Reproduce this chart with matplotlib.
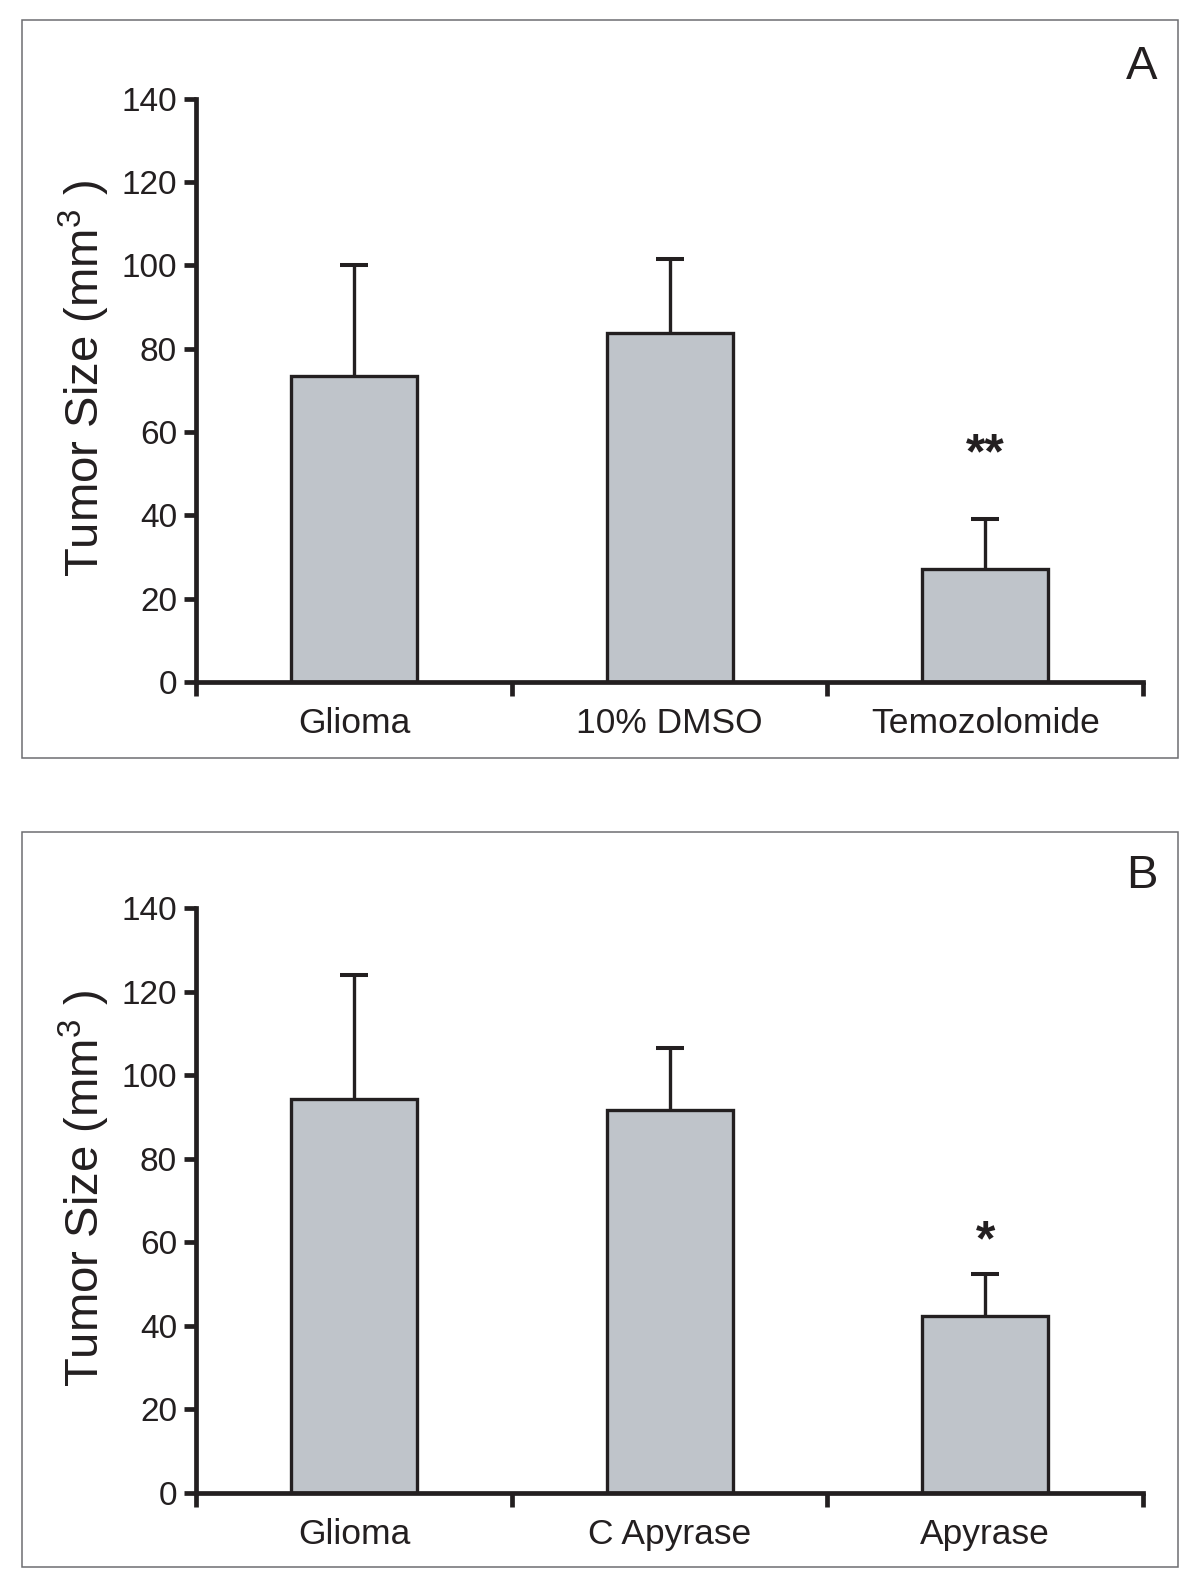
import matplotlib.pyplot as plt
from matplotlib.patches import Rectangle

plt.rcParams['font.family'] = ['Liberation Sans', 'DejaVu Sans']
plt.rcParams['mathtext.fontset'] = 'custom'
plt.rcParams['mathtext.rm'] = 'Liberation Sans'
plt.rcParams['mathtext.it'] = 'Liberation Sans'

# ---------------- data ----------------
groups_a = ['Glioma', '10% DMSO', 'Temozolomide']
means_a = [73.5, 83.8, 27.2]
err_a = [26.5, 17.6, 12.0]
stars_a = ['', '', '**']
star_y_a = 54.3

groups_b = ['Glioma', 'C Apyrase', 'Apyrase']
means_b = [94.2, 91.6, 42.4]
err_b = [29.7, 15.0, 9.9]
stars_b = ['', '', '*']
star_y_b = 60.0

yticks = [0, 20, 40, 60, 80, 100, 120, 140]

ink = '#231f20'
bar_color = '#bfc4ca'

fig = plt.figure(figsize=(12, 15.96), dpi=100)

# panel frames
for y0, h in [(0.5249, 0.4623), (0.0179, 0.4611)]:
    fig.patches.append(Rectangle((0.0187, y0), 0.9627, h, transform=fig.transFigure,
                                 fill=False, edgecolor='#6d6e71', linewidth=1.1))

ax_a = fig.add_axes([0.1637, 0.5727, 0.7888, 0.3655])
ax_b = fig.add_axes([0.1637, 0.0645, 0.7888, 0.3666])


def draw_panel(ax, groups, means, errs, stars, star_y, letter):
    x = [0.5, 1.5, 2.5]
    ax.bar(x, means, width=0.4, color=bar_color, edgecolor=ink, linewidth=2.4, zorder=2)
    eb = ax.errorbar(x, means, yerr=[[0] * len(errs), errs], fmt='none', ecolor=ink,
                     elinewidth=2.4, capsize=10, capthick=2.9, zorder=1)
    # only the upper cap is drawn in the original
    eb[1][0].set_visible(False)
    for xi, s in zip(x, stars):
        if s:
            ax.text(xi, star_y, s, ha='center', va='center', fontsize=36,
                    fontweight='bold', color=ink)

    ax.set_xlim(0, 3)
    ax.set_ylim(0, 140)
    ax.set_yticks(yticks)
    ax.set_xticks([0, 1, 2, 3])
    ax.set_xticklabels([])
    ax.set_xticks(x, minor=True)
    ax.set_xticklabels(groups, minor=True)

    for side in ['top', 'right']:
        ax.spines[side].set_visible(False)
    for side in ['left', 'bottom']:
        ax.spines[side].set_linewidth(3.4)
        ax.spines[side].set_color(ink)
        ax.spines[side].set_capstyle('projecting')
    ax.tick_params(axis='y', direction='out', length=9, width=3.4, color=ink,
                   labelsize=24, labelcolor=ink, pad=5)
    ax.tick_params(axis='x', which='major', direction='out', length=10, width=3.4,
                   color=ink)
    ax.tick_params(axis='x', which='minor', length=0, labelsize=25.5, labelcolor=ink,
                   pad=18)

    ax.text(-0.118, 0.52, 'Tumor Size (mm$^3$ )', transform=ax.transAxes,
            rotation=90, ha='center', va='center', fontsize=34, color=ink)
    ax.text(0.999, 1.055, letter, transform=ax.transAxes, ha='center', va='center',
            fontsize=34, color=ink)


draw_panel(ax_a, groups_a, means_a, err_a, stars_a, star_y_a, 'A')
draw_panel(ax_b, groups_b, means_b, err_b, stars_b, star_y_b, 'B')

fig.savefig('out.png', dpi=100)
